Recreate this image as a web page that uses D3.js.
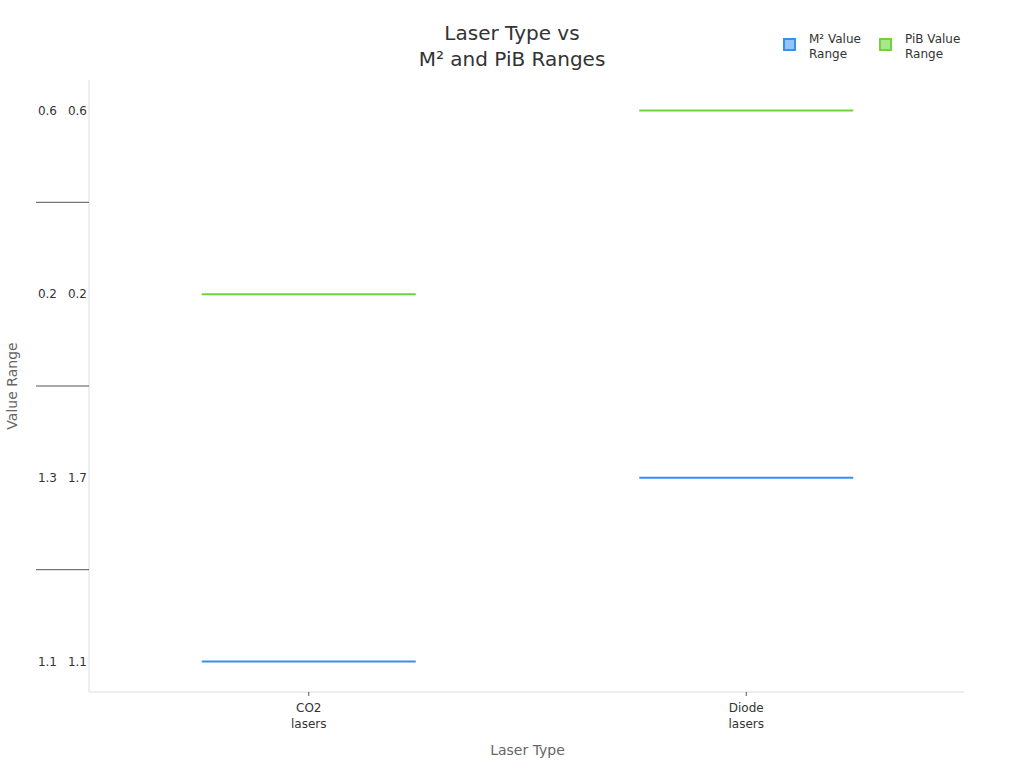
<!DOCTYPE html>
<html>
<head>
<meta charset="utf-8">
<script src="https://cdn.jsdelivr.net/npm/d3@7"></script>
<style>
  body { margin: 0; background: #fff; font-family: "DejaVu Sans", sans-serif; }
</style>
</head>
<body>
<div id="chart"></div>
<script>
// Chart data
const categories = ['CO2 lasers', 'Diode lasers'];
const m2Min = [1.1, 1.3];
const m2Max = [1.1, 1.7];
const pibMin = [0.2, 0.6];
const pibMax = [0.2, 0.6];
const seriesNames = ['M² Value Range', 'PiB Value Range'];
const seriesColors = ['#3a8ef0', '#6dd43c'];
const seriesFills = ['#92c5fa', '#a9e88a'];

// one row per series/category pair, bottom to top
const rows = [];
[[m2Min, m2Max], [pibMin, pibMax]].forEach(([mins, maxs], s) => {
  categories.forEach((c, i) => {
    rows.push({ key: s + '-' + i, series: s, cat: c, min: mins[i], max: maxs[i] });
  });
});

const margin = { top: 80, right: 60, bottom: 76, left: 89 };
const width = 1024 - margin.left - margin.right;
const height = 768 - margin.top - margin.bottom;

const root = d3.select('#chart').append('svg')
  .attr('width', 1024)
  .attr('height', 768);

const svg = root.append('g')
  .attr('transform', `translate(${margin.left},${margin.top})`);

const x = d3.scaleBand().domain(categories).range([0, width]).padding(0);
const y = d3.scalePoint().domain(rows.map(d => d.key)).range([height, 0]).padding(0.166);
const step = y.step();

// axis lines
svg.append('line').attr('x1', 0).attr('x2', 0).attr('y1', 0).attr('y2', height)
  .attr('stroke', '#dcdcdc');
svg.append('line').attr('x1', 0).attr('x2', width).attr('y1', height).attr('y2', height)
  .attr('stroke', '#dcdcdc');

// x ticks
const xt = svg.append('g').selectAll('g').data(categories).join('g')
  .attr('transform', d => `translate(${x(d) + x.bandwidth() / 2 + 1},${height})`);
xt.append('line').attr('y2', 4).attr('stroke', '#555');
xt.append('text')
  .attr('text-anchor', 'middle')
  .style('font-size', '12px')
  .attr('fill', '#333')
  .selectAll('tspan').data(d => d.split(' ')).join('tspan')
  .attr('x', 0)
  .attr('y', (d, i) => 20 + i * 16)
  .text(d => d);

// y row labels (min / max)
const yt = svg.append('g').selectAll('g').data(rows).join('g')
  .attr('transform', d => `translate(0,${y(d.key)})`);
yt.append('text').attr('x', -32).attr('dy', '0.35em').attr('text-anchor', 'end')
  .style('font-size', '12px').attr('fill', '#333').text(d => d.min);
yt.append('text').attr('x', -2).attr('dy', '0.35em').attr('text-anchor', 'end')
  .style('font-size', '12px').attr('fill', '#333').text(d => d.max);

// separators between rows
svg.append('g').selectAll('line').data(rows.slice(1)).join('line')
  .attr('x1', -53).attr('x2', 0)
  .attr('y1', d => y(d.key) + step / 2)
  .attr('y2', d => y(d.key) + step / 2)
  .attr('stroke', '#555');

// range lines
svg.append('g').selectAll('line').data(rows).join('line')
  .attr('x1', d => x(d.cat) + x.bandwidth() / 2 - 106)
  .attr('x2', d => x(d.cat) + x.bandwidth() / 2 + 108)
  .attr('y1', d => y(d.key))
  .attr('y2', d => y(d.key))
  .attr('stroke', d => seriesColors[d.series])
  .attr('stroke-width', 2);

// axis titles
svg.append('text')
  .attr('x', width / 2 + 1).attr('y', height + 63)
  .attr('text-anchor', 'middle')
  .style('font-size', '14px').attr('fill', '#666')
  .text('Laser Type');

svg.append('text')
  .attr('transform', 'rotate(-90)')
  .attr('x', -height / 2).attr('y', -72)
  .attr('text-anchor', 'middle')
  .style('font-size', '14px').attr('fill', '#666')
  .text('Value Range');

// title
const title = root.append('text')
  .attr('text-anchor', 'middle')
  .style('font-size', '20px').attr('fill', '#333');
title.append('tspan').attr('x', 512).attr('y', 40).text('Laser Type vs');
title.append('tspan').attr('x', 512).attr('y', 66).text('M² and PiB Ranges');

// legend
const legend = root.append('g').selectAll('g').data(seriesNames).join('g')
  .attr('transform', (d, i) => `translate(${783 + i * 96},38)`);
legend.append('rect')
  .attr('x', 1).attr('y', 1).attr('width', 11).attr('height', 11)
  .attr('fill', (d, i) => seriesFills[i])
  .attr('stroke', (d, i) => seriesColors[i])
  .attr('stroke-width', 2);
legend.append('text')
  .style('font-size', '12px').attr('fill', '#333')
  .selectAll('tspan').data(d => [d.split(' ').slice(0, 2).join(' '), d.split(' ').slice(2).join(' ')]).join('tspan')
  .attr('x', 26)
  .attr('y', (d, i) => 5 + i * 15)
  .text(d => d);
</script>
</body>
</html>
